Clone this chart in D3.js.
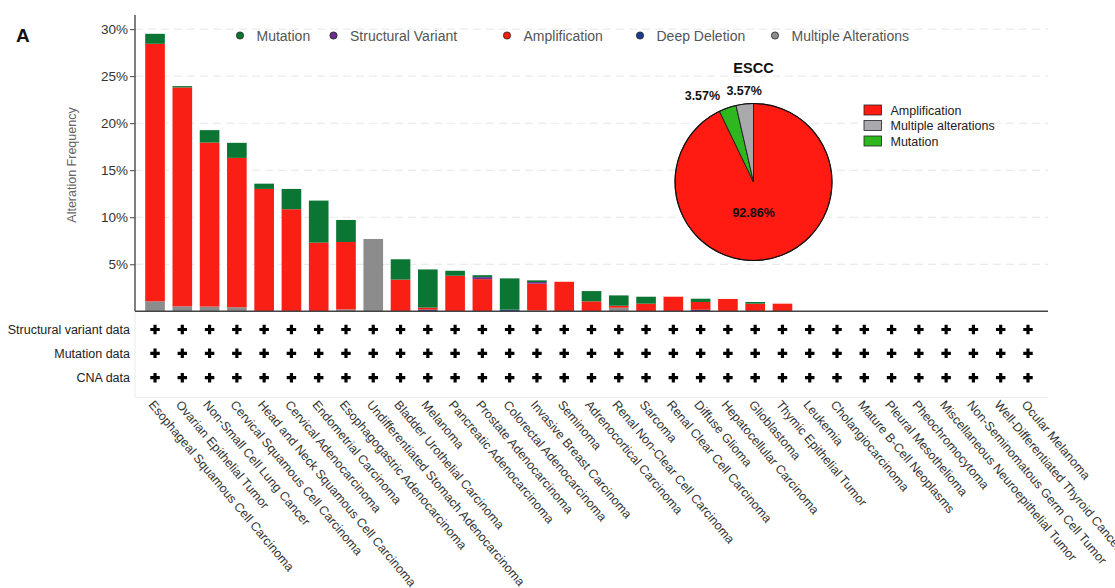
<!DOCTYPE html>
<html><head><meta charset="utf-8">
<script src="https://cdn.jsdelivr.net/npm/d3@7"></script>
<style>
html,body{margin:0;padding:0;background:#fff;}
text{font-family:"Liberation Sans",Arial,Helvetica,sans-serif;}
</style></head>
<body><svg id="chart" width="1115" height="588"></svg>
<script>
const categories = ["Esophageal Squamous Cell Carcinoma","Ovarian Epithelial Tumor","Non-Small Cell Lung Cancer","Cervical Squamous Cell Carcinoma","Head and Neck Squamous Cell Carcinoma","Cervical Adenocarcinoma","Endometrial Carcinoma","Esophagogastric Adenocarcinoma","Undifferentiated Stomach Adenocarcinoma","Bladder Urothelial Carcinoma","Melanoma","Pancreatic Adenocarcinoma","Prostate Adenocarcinoma","Colorectal Adenocarcinoma","Invasive Breast Carcinoma","Seminoma","Adrenocortical Carcinoma","Renal Non-Clear Cell Carcinoma","Sarcoma","Renal Clear Cell Carcinoma","Diffuse Glioma","Hepatocellular Carcinoma","Glioblastoma","Thymic Epithelial Tumor","Leukemia","Cholangiocarcinoma","Mature B-Cell Neoplasms","Pleural Mesothelioma","Pheochromocytoma","Miscellaneous Neuroepithelial Tumor","Non-Seminomatous Germ Cell Tumor","Well-Differentiated Thyroid Cancer","Ocular Melanoma"];
const multiple = [1.06,0.53,0.5,0.43,0,0,0,0.2,7.69,0,0,0,0,0,0.1,0,0,0.38,0,0,0,0,0,0,0,0,0,0,0,0,0,0,0];
const deepDeletion = [0,0,0,0,0,0,0,0,0,0,0.18,0,0,0.18,0,0,0,0,0,0,0.16,0,0,0,0,0,0,0,0,0,0,0,0];
const amplification = [27.38,23.27,17.44,15.88,13.01,10.85,7.3,7.17,0,3.37,0.21,3.78,3.42,0,2.84,3.14,1.05,0.21,0.81,1.55,0.83,1.31,0.81,0.81,0,0,0,0,0,0,0,0,0];
const structuralVariant = [0,0,0,0,0,0,0,0,0,0,0,0,0.21,0,0.17,0,0,0,0,0,0,0,0,0,0,0,0,0,0,0,0,0,0];
const mutation = [1.06,0.14,1.32,1.6,0.56,2.16,4.47,2.34,0,2.16,4.06,0.53,0.21,3.32,0.18,0,1.1,1.1,0.74,0,0.35,0,0.18,0,0,0,0,0,0,0,0,0,0];
const yTicks = [5,10,15,20,25,30];
const legendLabels = ["Mutation","Structural Variant","Amplification","Deep Deletion","Multiple Alterations"];
const rowLabels = ["Structural variant data","Mutation data","CNA data"];
const pieLabels = ["Amplification","Mutation","Multiple alterations"];
const pieValues = [92.86,3.57,3.57];
const pieLegendOrder = ["Amplification","Multiple alterations","Mutation"];

const colors = {mutation:"#0b7533", sv:"#6b2d8e", amp:"#f91f15", del:"#1d3c8f", multiple:"#8c8c8c"};
const legendColors = [colors.mutation, colors.sv, "#f21d14", colors.del, "#8c8c8c"];
const pieColors = {"Amplification":"#ff1a12","Mutation":"#2fb720","Multiple alterations":"#a9a9ae"};

const svg = d3.select("#chart");
const plotL = 135, plotR = 1048, plotT = 15, plotB = 311.3;

const x = d3.scaleBand().domain(categories).range([plotL, plotR]).paddingInner(0.28).paddingOuter(0.374);
const y = d3.scaleLinear().domain([0, 31.5]).range([plotB, plotT]);

// gridlines
svg.append("g").selectAll("line").data(yTicks).join("line")
  .attr("x1", plotL).attr("x2", plotR)
  .attr("y1", d => y(d)).attr("y2", d => y(d))
  .attr("stroke", "#e6e6e6").attr("stroke-width", 1).attr("stroke-dasharray", "8,5");

// stacked bars
const rows = categories.map((c, i) => ({cat: c, multiple: multiple[i], del: deepDeletion[i], amp: amplification[i], sv: structuralVariant[i], mutation: mutation[i]}));
const keys = ["multiple","del","amp","sv","mutation"];
const stack = d3.stack().keys(keys)(rows);
svg.append("g").selectAll("g").data(stack).join("g")
  .attr("fill", d => colors[d.key])
  .selectAll("rect").data(d => d.filter(p => p[1] - p[0] > 0)).join("rect")
  .attr("x", d => x(d.data.cat)).attr("width", x.bandwidth())
  .attr("y", d => y(d[1])).attr("height", d => y(d[0]) - y(d[1]));

// y axis
const yAxis = d3.axisLeft(y).tickValues(yTicks).tickFormat(d => d + "%").tickSize(5).tickPadding(2);
const ga = svg.append("g").attr("transform", `translate(${plotL},0)`).call(yAxis);
ga.select(".domain").remove();
ga.selectAll(".tick line").attr("stroke", "#444");
ga.selectAll(".tick text").attr("font-size", 13.5).attr("fill", "#333").attr("font-family", '"Liberation Sans",Arial,sans-serif');
svg.append("line").attr("x1", plotL).attr("x2", plotL).attr("y1", plotT).attr("y2", plotB).attr("stroke", "#555").attr("stroke-width", 1.5);

svg.append("text").attr("transform", `translate(76,165) rotate(-90)`).attr("text-anchor", "middle")
  .attr("font-size", 12.5).attr("fill", "#666").text("Alteration Frequency");

svg.append("text").attr("x", 16).attr("y", 42).attr("font-size", 19).attr("font-weight", "bold").attr("fill", "#111").text("A");

// legend top
const legX = [240, 333.5, 507, 640, 775];
const lg = svg.append("g");
legendLabels.forEach((l, i) => {
  lg.append("circle").attr("cx", legX[i]).attr("cy", 35.5).attr("r", 3.6).attr("fill", legendColors[i]).attr("stroke", "#222").attr("stroke-width", 0.8);
  lg.append("text").attr("x", legX[i] + 16.5).attr("y", 40.5).attr("font-size", 14).attr("fill", "#555").text(l);
});

// bottom panel (left and bottom light borders)
svg.append("line").attr("x1", plotL).attr("x2", plotL).attr("y1", plotB).attr("y2", plotB + 86).attr("stroke", "#ececec");
svg.append("line").attr("x1", plotL).attr("x2", plotR).attr("y1", plotB + 86).attr("y2", plotB + 86).attr("stroke", "#ececec");
svg.append("line").attr("x1", plotL).attr("x2", plotR).attr("y1", plotB).attr("y2", plotB).attr("stroke", "#444").attr("stroke-width", 1.5);
const rowY = [329.5, 353.3, 377.7];
rowLabels.forEach((r, j) => {
  svg.append("text").attr("x", 130).attr("y", rowY[j] + 4.5).attr("text-anchor", "end").attr("font-size", 12.5).attr("fill", "#222").text(r);
  svg.append("g").selectAll("path").data(categories).join("path")
    .attr("d", d3.symbol(d3.symbolCross, 50))
    .attr("transform", d => `translate(${x(d) + x.bandwidth() / 2},${rowY[j]})`)
    .attr("fill", "#000");
});

// x labels
svg.append("g").selectAll("text").data(categories).join("text")
  .attr("transform", d => `translate(${x(d) + x.bandwidth() / 2 - 7},${405}) rotate(50)`)
  .attr("font-size", 12.5).attr("fill", "#333").text(d => d);

// pie
const cx = 753.5, cy = 182, r = 78.5;
const pie = d3.pie().sort(null).value(d => d.v);
const arcs = pie(pieLabels.map((l, i) => ({l, v: pieValues[i]})));
const arc = d3.arc().innerRadius(0).outerRadius(r);
const pg = svg.append("g").attr("transform", `translate(${cx},${cy})`);
pg.selectAll("path").data(arcs).join("path").attr("d", arc)
  .attr("fill", d => pieColors[d.data.l]).attr("stroke", "#111").attr("stroke-width", 0.8);
pg.append("circle").attr("r", r).attr("fill", "none").attr("stroke", "#111").attr("stroke-width", 1.2);
const labArc = d3.arc().innerRadius(0).outerRadius(64);
const outArc = d3.arc().innerRadius(182).outerRadius(182);
pg.selectAll("text.pl").data(arcs).join("text").attr("class", "pl")
  .attr("transform", (d, i) => {
    if (i === 0) { const c = labArc.centroid(d); return `translate(${c[0] - 7},${c[1] + 4})`; }
    const c = outArc.centroid(d);
    return i === 2 ? `translate(${c[0] + 11},${-87})` : `translate(${c[0] + 9},${-82})`;
  })
  .attr("text-anchor", "middle").attr("font-size", 12.5).attr("font-weight", "bold").attr("fill", "#111")
  .text(d => d.data.v.toFixed(2) + "%");
svg.append("text").attr("x", cx).attr("y", 73).attr("text-anchor", "middle").attr("font-size", 14.5).attr("font-weight", "bold").attr("fill", "#111").text("ESCC");

// pie legend
pieLegendOrder.forEach((l, i) => {
  svg.append("rect").attr("x", 864).attr("y", 105 + i * 15.5).attr("width", 17.5).attr("height", 10)
    .attr("fill", pieColors[l]).attr("stroke", "#222").attr("stroke-width", 0.8);
  svg.append("text").attr("x", 890.5).attr("y", 114.5 + i * 15.5).attr("font-size", 12.5).attr("fill", "#222").text(l);
});
</script></body></html>
